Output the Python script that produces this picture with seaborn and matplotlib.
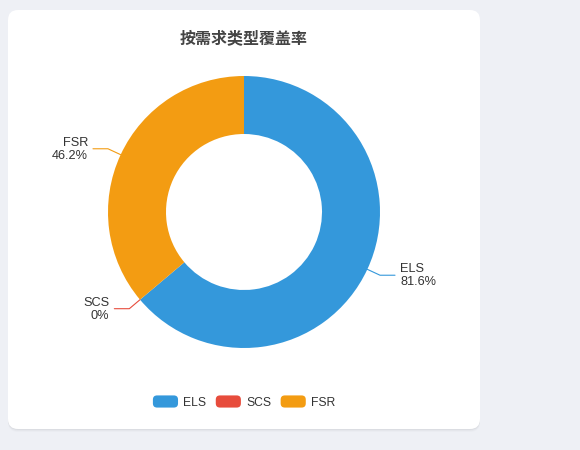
import numpy as np
import matplotlib
matplotlib.use('Agg')
import matplotlib.pyplot as plt
import matplotlib.patches as mpatches
from matplotlib.legend_handler import HandlerPatch
import seaborn as sns

# data
title = '按需求类型覆盖率'
categories = ['ELS', 'SCS', 'FSR']
coverage = [81.6, 0, 46.2]
colors = ['#3498db', '#e74c3c', '#f39c12']

sns.set_theme(style='white')
plt.rcParams['font.family'] = ['Liberation Sans', 'Noto Sans CJK SC', 'DejaVu Sans']

W, H = 580, 450
fig = plt.figure(figsize=(W / 100, H / 100), dpi=100, facecolor='#eef0f5')
ax = fig.add_axes([0, 0, 1, 1])
ax.set_facecolor('#eef0f5')

# card (with a soft shadow)
for off, a in [(3, 0.015), (2, 0.025), (1, 0.035)]:
    ax.add_patch(mpatches.FancyBboxPatch((8, H - 429 - off), 472, 419,
                                         boxstyle='round,pad=0,rounding_size=10',
                                         facecolor='#000000', alpha=a, edgecolor='none', zorder=0))
ax.add_patch(mpatches.FancyBboxPatch((8, H - 429), 472, 419,
                                     boxstyle='round,pad=0,rounding_size=10',
                                     facecolor='white', edgecolor='none', zorder=1))

cx, cy, r = 244, H - 212, 136
wedges, _ = ax.pie(coverage, colors=colors, startangle=90, counterclock=False,
                   radius=r, center=(cx, cy),
                   wedgeprops=dict(width=58, linewidth=0, zorder=2))
for w in wedges:
    w.set_zorder(2)

# label lines
for w, name, val, col in zip(wedges, categories, coverage, colors):
    mid = np.deg2rad((w.theta1 + w.theta2) / 2)
    x0, y0 = cx + r * np.cos(mid), cy + r * np.sin(mid)
    x1, y1 = cx + (r + 14) * np.cos(mid), cy + (r + 14) * np.sin(mid)
    side = 1 if np.cos(mid) >= 0 else -1
    x2 = x1 + side * 15
    ax.plot([x0, x1, x2], [y0, y1, y1], color=col, lw=0.8, zorder=3)
    ax.text(x2 + side * 5, y1 - 0.5, f'{name}\n{val:g}%', ha='left' if side > 0 else 'right',
            va='center', fontsize=9.2, color='#333333', linespacing=1.1, zorder=4)

ax.text(cx, H - 38, title, ha='center', va='center', fontsize=11.5, fontweight='bold',
        family=['Noto Sans CJK SC'], color='#444444', zorder=4)


class RoundBox(HandlerPatch):
    def create_artists(self, legend, orig_handle, xdescent, ydescent, width, height, fontsize, trans):
        p = mpatches.FancyBboxPatch((-xdescent, -ydescent), width, height,
                                    boxstyle='round,pad=0,rounding_size=3',
                                    facecolor=orig_handle.get_facecolor(), edgecolor='none',
                                    transform=trans)
        return [p]


leg = ax.legend(wedges, categories, loc='center', bbox_to_anchor=(cx, H - 402),
                bbox_transform=ax.transData, ncol=3, frameon=False, fontsize=8.7,
                handlelength=2.08, handleheight=1.17, handletextpad=0.42,
                columnspacing=0.8, borderpad=0, handler_map={mpatches.Wedge: RoundBox()})
for t in leg.get_texts():
    t.set_color('#333333')
leg.set_zorder(5)

ax.set_xlim(0, W)
ax.set_ylim(0, H)
ax.set_aspect('equal')
ax.axis('off')

fig.savefig('out.png', dpi=100, facecolor=fig.get_facecolor())
